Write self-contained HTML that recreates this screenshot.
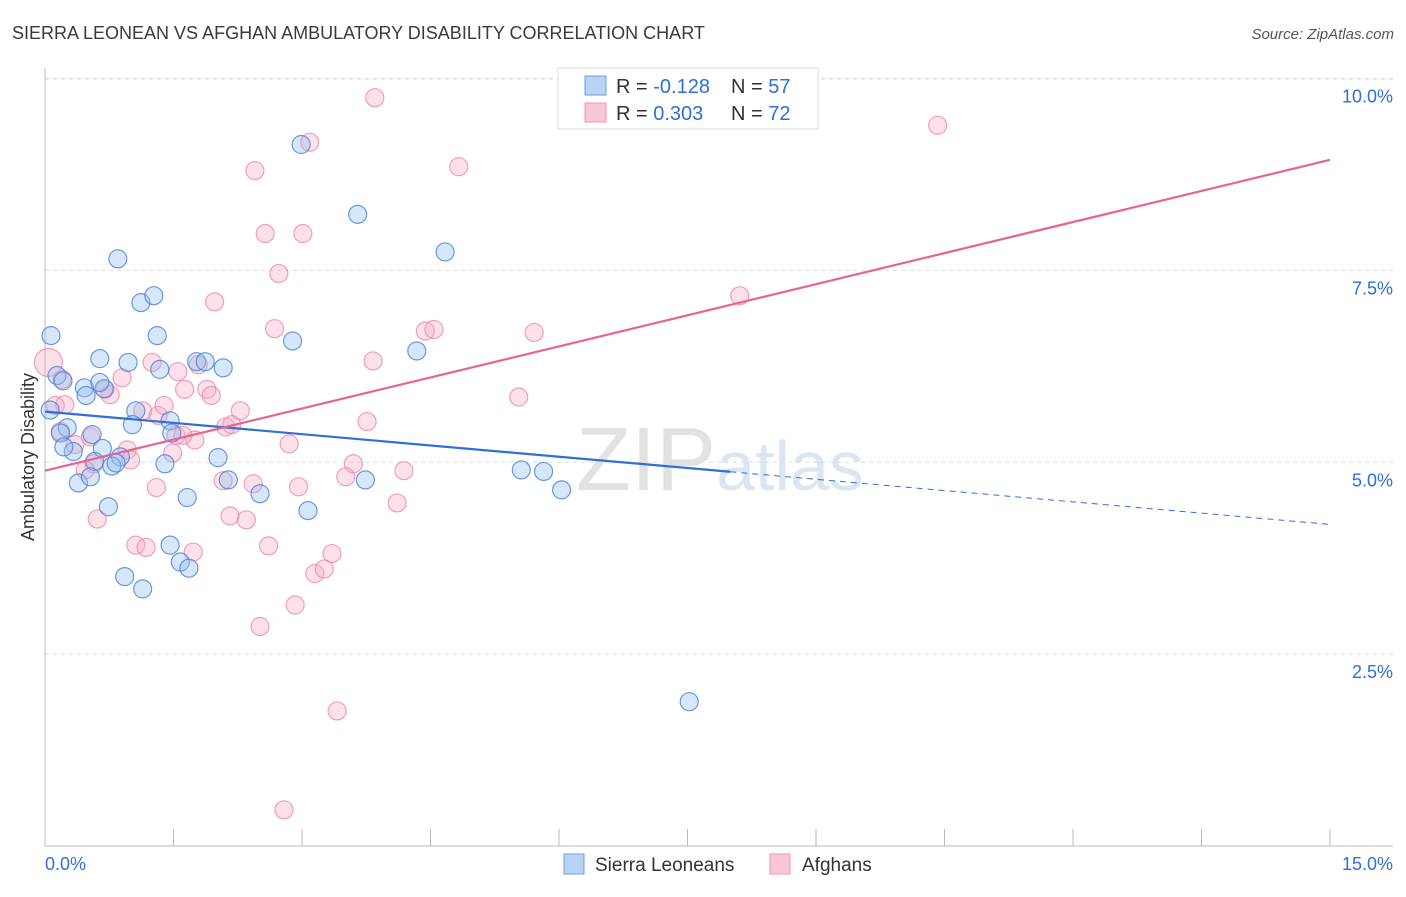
<!DOCTYPE html>
<html><head><meta charset="utf-8">
<style>
body{margin:0;background:#fff;width:1406px;height:892px;overflow:hidden;font-family:"Liberation Sans",sans-serif}
svg text{font-family:"Liberation Sans",sans-serif}
</style></head>
<body>
<svg id="chart" width="1406" height="892" xmlns="http://www.w3.org/2000/svg">
<text x="12" y="39" font-size="18" fill="#3a3a3a">SIERRA LEONEAN VS AFGHAN AMBULATORY DISABILITY CORRELATION CHART</text>
<text x="1394" y="39" font-size="15" fill="#555" font-style="italic" text-anchor="end">Source: ZipAtlas.com</text>
<text x="720" y="490" font-size="90" fill="#e4e4e4" text-anchor="middle" font-family="Liberation Serif"><tspan fill="#e2e2e2">ZIP</tspan><tspan fill="#dbe6f3" font-family="Liberation Sans" font-size="70">atlas</tspan></text>
<g id="grid"></g>
<g id="axes"></g>
<g id="pts"></g>
<g id="trends"></g>
<text transform="translate(34,457) rotate(-90)" font-size="18" fill="#333" text-anchor="middle">Ambulatory Disability</text>
<g>
<rect x="558" y="68" width="260" height="61" fill="#fff" stroke="#ddd"/>
<rect x="585" y="76" width="21" height="19" fill="#b9d3f5" stroke="#6e9de0"/>
<rect x="585" y="103" width="21" height="19" fill="#f9c6d6" stroke="#ef95b2"/>
<text x="616" y="93" font-size="20" fill="#333">R = <tspan fill="#2f6fd6">-0.128</tspan></text>
<text x="731" y="93" font-size="20" fill="#333">N = <tspan fill="#2f6fd6">57</tspan></text>
<text x="616" y="120" font-size="20" fill="#333">R = <tspan fill="#2f6fd6"> 0.303</tspan></text>
<text x="731" y="120" font-size="20" fill="#333">N = <tspan fill="#2f6fd6">72</tspan></text>
</g>
<g>
<rect x="564" y="854" width="20" height="20" fill="#b9d3f5" stroke="#6e9de0"/>
<text x="595" y="871" font-size="19" fill="#333">Sierra Leoneans</text>
<rect x="770" y="854" width="20" height="20" fill="#f9c6d6" stroke="#ef95b2"/>
<text x="802" y="871" font-size="19" fill="#333">Afghans</text>
</g>
</svg>
<script>
const yTicks=[2.5,5.0,7.5,10.0];
const yTickLabels=["2.5%","5.0%","7.5%","10.0%"];
const xTickCount=10;
const xLabels=["0.0%","15.0%"];
const blueX=[0.07,0.14,0.21,0.64,0.97,1.31,1.34,0.85,1.12,1.27,0.46,0.48,0.69,1.06,0.26,0.18,0.55,0.33,0.67,0.88,0.58,0.78,0.83,0.39,0.53,1.02,1.46,1.48,1.40,1.77,1.87,2.08,2.02,2.14,2.51,1.66,0.74,1.46,1.58,1.68,0.93,1.14,2.89,2.99,3.65,4.67,4.34,3.74,3.07,5.56,5.82,6.03,7.52,0.06,0.22,0.64];
const blueY=[6.65,6.13,6.06,6.35,6.30,6.65,6.21,7.65,7.08,7.17,5.97,5.87,5.96,5.67,5.45,5.38,5.36,5.14,5.18,5.07,5.01,4.95,4.99,4.73,4.81,5.49,5.54,5.38,4.98,6.31,6.31,6.23,5.06,4.77,4.59,4.54,4.42,3.92,3.70,3.62,3.51,3.35,6.58,9.14,8.23,7.74,6.45,4.77,4.37,4.90,4.88,4.64,1.88,5.68,5.20,6.04];
const pinkX=[0.04,0.12,0.18,0.23,0.35,0.57,0.70,0.90,0.96,1.00,1.14,1.25,1.32,1.39,1.49,1.53,1.61,1.75,1.55,1.89,1.94,1.79,1.98,2.11,2.18,2.28,2.08,2.16,2.35,2.43,0.61,1.06,1.18,1.30,1.73,2.45,2.57,2.73,2.68,3.09,3.01,3.85,4.83,2.85,2.96,2.61,2.51,2.92,3.15,3.26,3.35,3.41,2.79,3.60,3.51,3.76,3.83,4.11,4.19,4.44,4.54,5.71,5.53,8.11,10.42,0.53,0.47,0.20,0.76,1.63];
const pinkY=[6.30,5.74,5.40,5.75,5.23,4.98,5.95,6.10,5.16,5.03,5.67,6.30,5.61,5.74,5.12,5.35,5.35,5.29,6.18,5.95,5.87,6.27,7.09,5.46,5.49,5.67,4.76,4.30,4.25,4.72,4.26,3.92,3.89,4.67,3.83,8.80,7.98,7.46,6.74,9.17,7.98,9.75,8.85,5.24,4.68,3.91,2.86,3.14,3.55,3.61,3.81,1.76,0.47,4.98,4.81,5.53,6.32,4.47,4.89,6.71,6.73,6.69,5.85,7.17,9.39,5.33,4.90,6.08,5.88,5.95];
const blueTrend=[5.66,4.19]; // values at x=0 and x=15
const blueSolidEnd=8.0;
const pinkTrend=[4.89,8.94];

const NS="http://www.w3.org/2000/svg";
const X0=45,X1=1330,Y0=846,YPER=76.75;
const sx=v=>X0+(v/15)*(X1-X0);
const sy=v=>Y0-v*YPER;
function mk(tag,attrs,parent){const e=document.createElementNS(NS,tag);for(const k in attrs)e.setAttribute(k,attrs[k]);parent.appendChild(e);return e;}
const grid=document.getElementById('grid'),axes=document.getElementById('axes'),pts=document.getElementById('pts'),tr=document.getElementById('trends');
yTicks.forEach((t,i)=>{
  const l=mk('line',{x1:45,x2:1393,y1:sy(t),y2:sy(t),stroke:'#ddd','stroke-dasharray':'4,4'},grid);
  
  
  const tx=mk('text',{x:1393,y:sy(t)+24,'font-size':18,fill:'#2f6fd6','text-anchor':'end'},grid);
  tx.textContent=yTickLabels[i];
  
  
});
const topLine=mk('line',{x1:45,x2:1393,y1:79,y2:79,stroke:'#ddd','stroke-dasharray':'4,4'},grid);


const ya=mk('line',{x1:45,x2:45,y1:68,y2:846,stroke:'#bbb'},axes);


const xa=mk('line',{x1:45,x2:1393,y1:846,y2:846,stroke:'#bbb'},axes);


for(let i=1;i<=xTickCount;i++){
  const v=15*i/xTickCount;
  const t=mk('line',{x1:sx(v),x2:sx(v),y1:829,y2:846,stroke:'#bbb'},axes);
  
  
}
const xl0=mk('text',{x:45,y:870,'font-size':18,fill:'#2f6fd6'},axes);xl0.textContent=xLabels[0];


const xl1=mk('text',{x:1393,y:870,'font-size':18,fill:'#2f6fd6','text-anchor':'end'},axes);xl1.textContent=xLabels[1];



pinkX.forEach((x,i)=>{
  const c=mk('circle',{cx:sx(x),cy:sy(pinkY[i]),r:i===0?14:9,fill:'rgba(246,168,194,0.35)',stroke:'rgba(236,130,165,0.75)','stroke-width':1.2},pts);
  
  
});
blueX.forEach((x,i)=>{
  const c=mk('circle',{cx:sx(x),cy:sy(blueY[i]),r:9,fill:'rgba(150,190,238,0.38)',stroke:'rgba(70,130,215,0.8)','stroke-width':1.2},pts);
  
  
});
const by=v=>blueTrend[0]+(blueTrend[1]-blueTrend[0])*v/15;
const bl=mk('line',{x1:sx(0),y1:sy(by(0)),x2:sx(blueSolidEnd),y2:sy(by(blueSolidEnd)),stroke:'#2f6fd6','stroke-width':2.2},tr);


const bd=mk('line',{x1:sx(blueSolidEnd),y1:sy(by(blueSolidEnd)),x2:sx(15),y2:sy(by(15)),stroke:'#2f6fd6','stroke-width':1,'stroke-dasharray':'6,5'},tr);


const pl=mk('line',{x1:sx(0),y1:sy(pinkTrend[0]),x2:sx(15),y2:sy(pinkTrend[1]),stroke:'#e8638f','stroke-width':2.2},tr);


</script>
</body></html>
